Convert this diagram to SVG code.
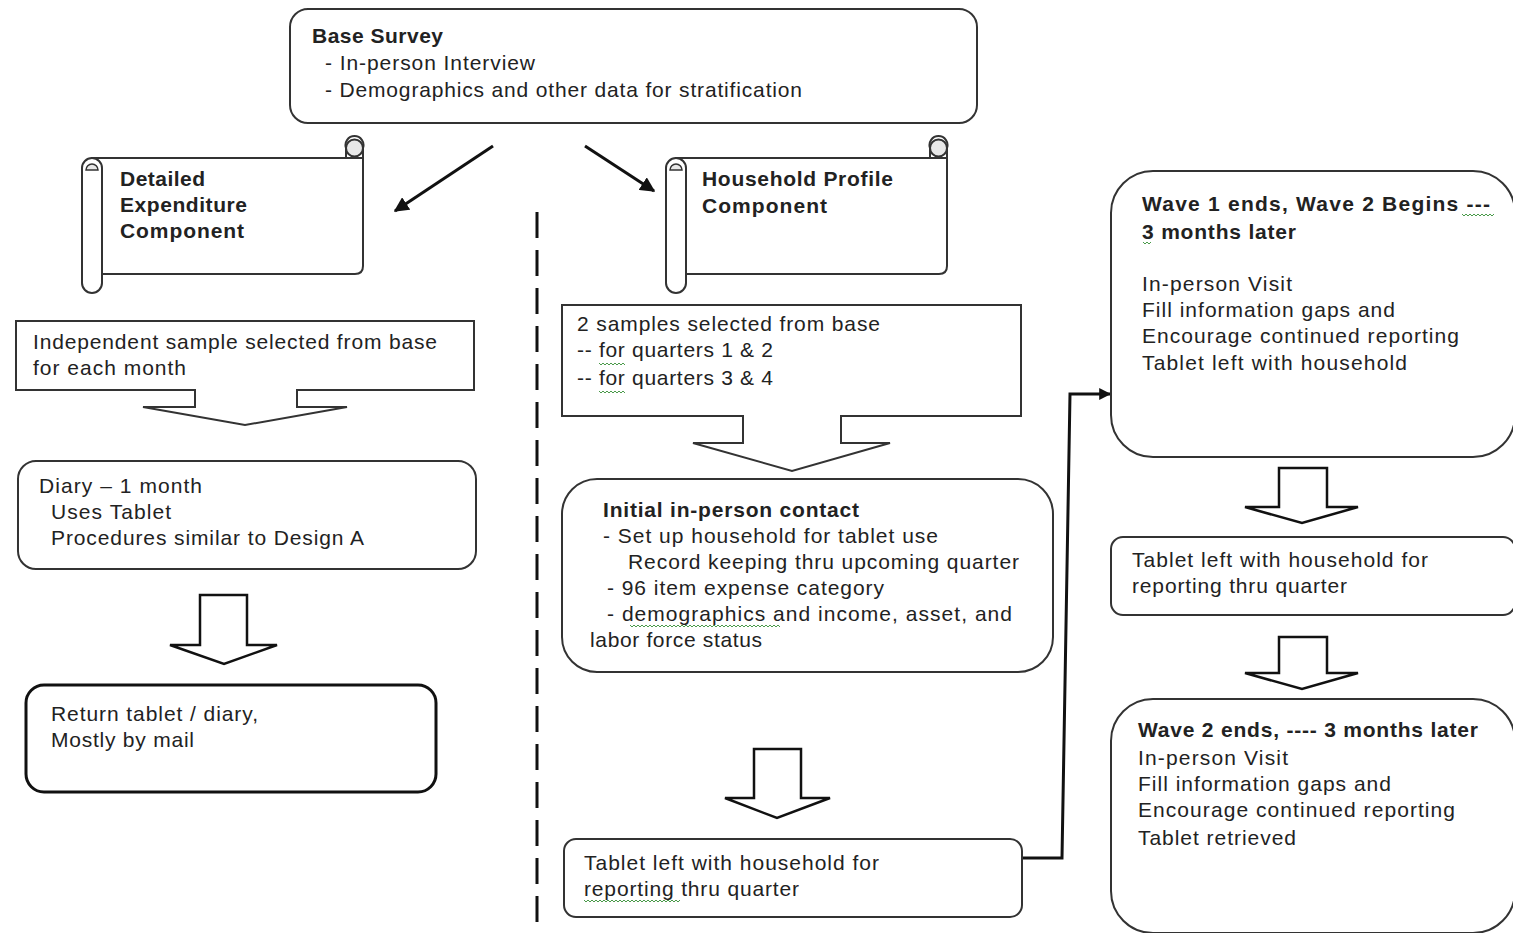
<svg xmlns="http://www.w3.org/2000/svg" width="1513" height="933" viewBox="0 0 1513 933">
<style>
.box{fill:#fff;stroke:#333;stroke-width:2}
.thick{stroke:#111;stroke-width:3}
.t{font-family:"Liberation Sans",Arial,sans-serif;font-size:21px;fill:#222}
.b{font-weight:bold}
.blk{fill:#fff;stroke:#111;stroke-width:2.5;stroke-linejoin:miter}
.ln{fill:none;stroke:#111;stroke-width:3}
.sq{fill:none;stroke:#4a9a4a;stroke-width:1}
</style>
<defs>
<marker id="ah" viewBox="0 0 10 10" refX="9" refY="5" markerWidth="5" markerHeight="5" orient="auto" markerUnits="strokeWidth">
<path d="M0 0 L10 5 L0 10 Z" fill="#111"/>
</marker>
<marker id="ah2" viewBox="0 0 10 10" refX="9" refY="5" markerWidth="4" markerHeight="4" orient="auto" markerUnits="strokeWidth">
<path d="M0 0 L10 5 L0 10 Z" fill="#111"/>
</marker>
<g id="scroll">
<path class="box" d="M92 158 H346 V148 A9 9 0 1 1 363 148 V266 Q363 274 355 274 H102 Z"/>
<circle cx="354.5" cy="148" r="8.5" fill="#e8e8e8" stroke="#333" stroke-width="2"/>
<path fill="none" stroke="#333" stroke-width="2" d="M346 148 V158 H363"/>
<rect class="box" x="82" y="158" width="20" height="135" rx="10"/>
<path fill="#e8e8e8" stroke="#333" stroke-width="1.5" d="M86 170 A6 6 0 1 1 98 170 Z"/>
</g>
</defs>
<rect width="1513" height="933" fill="#fff"/>

<g id="connectors">
<line class="ln" x1="493" y1="146" x2="395" y2="211" marker-end="url(#ah)"/>
<line class="ln" x1="585" y1="146" x2="654" y2="191" marker-end="url(#ah)"/>
<line x1="537" y1="212" x2="537" y2="925" stroke="#111" stroke-width="3" stroke-dasharray="26 12"/>
<path class="ln" d="M1021 858 H1062 L1070 394 H1110" stroke-width="2.5" marker-end="url(#ah2)"/>
<path class="blk" d="M200 595 H247 V645 H277 L224 664 L170 645 H200 Z"/>
<path class="blk" d="M754 749 H801 V798 H830 L777 818 L725 798 H754 Z"/>
<path class="blk" d="M1279 468 H1327 V507 H1358 L1302 523 L1245 507 H1279 Z"/>
<path class="blk" d="M1279 637 H1327 V673 H1358 L1302 689 L1245 673 H1279 Z"/>
</g>

<g id="base-survey">
<rect class="box" x="290" y="9" width="687" height="114" rx="18"/>
<text class="t b" x="312" y="43" textLength="131">Base Survey</text>
<text class="t" x="325" y="70" textLength="210">- In-person Interview</text>
<text class="t" x="325" y="97" textLength="477">- Demographics and other data for stratification</text>
</g>

<g id="detailed-expenditure">
<use href="#scroll"/>
<text class="t b" x="120" y="186" textLength="85">Detailed</text>
<text class="t b" x="120" y="212" textLength="127">Expenditure</text>
<text class="t b" x="120" y="238" textLength="124">Component</text>
</g>

<g id="household-profile">
<use href="#scroll" transform="translate(584,0)"/>
<text class="t b" x="702" y="186" textLength="191">Household Profile</text>
<text class="t b" x="702" y="213" textLength="125">Component</text>
</g>

<g id="independent-sample">
<path class="box" d="M16 321 H474 V390 H297 V407 H347 L245 425 L143 407 H195 V390 H16 Z"/>
<text class="t" x="33" y="349" textLength="404">Independent sample selected from base</text>
<text class="t" x="33" y="375" textLength="153">for each month</text>
</g>

<g id="two-samples">
<path class="box" d="M562 305 H1021 V416 H841 V443 H890 L792 471 L693 443 H743 V416 H562 Z"/>
<text class="t" x="577" y="331" textLength="303">2 samples selected from base</text>
<text class="t" x="577" y="357" textLength="196">-- for quarters 1 &amp; 2</text>
<text class="t" x="577" y="385" textLength="196">-- for quarters 3 &amp; 4</text>
</g>

<g id="diary">
<rect class="box" x="18" y="461" width="458" height="108" rx="18"/>
<text class="t" x="39" y="493" textLength="163">Diary – 1 month</text>
<text class="t" x="51" y="519" textLength="120">Uses Tablet</text>
<text class="t" x="51" y="545" textLength="313">Procedures similar to Design A</text>
</g>

<g id="return-tablet">
<rect class="box thick" x="26" y="685" width="410" height="107" rx="18"/>
<text class="t" x="51" y="721" textLength="207">Return tablet / diary,</text>
<text class="t" x="51" y="747" textLength="143">Mostly by mail</text>
</g>

<g id="initial-contact">
<rect class="box" x="562" y="479" width="491" height="193" rx="35"/>
<text class="t b" x="603" y="517" textLength="256">Initial in-person contact</text>
<text class="t" x="603" y="543" textLength="335">-  Set up household for tablet use</text>
<text class="t" x="628" y="569" textLength="391">Record keeping thru upcoming quarter</text>
<text class="t" x="607" y="595" textLength="277">- 96 item expense category</text>
<text class="t" x="607" y="621" textLength="405">-  demographics and income, asset, and</text>
<text class="t" x="590" y="647" textLength="172">labor force status</text>
</g>

<g id="tablet-left-mid">
<rect class="box" x="564" y="839" width="458" height="78" rx="12"/>
<text class="t" x="584" y="870" textLength="295">Tablet left with household for</text>
<text class="t" x="584" y="896" textLength="215">reporting thru quarter</text>
</g>

<g id="wave1">
<rect class="box" x="1111" y="171" width="404" height="286" rx="42"/>
<text class="t b" x="1142" y="211" textLength="348">Wave 1 ends, Wave 2 Begins ---</text>
<text class="t b" x="1142" y="239" textLength="154">3 months later</text>
<text class="t" x="1142" y="291" textLength="150">In-person Visit</text>
<text class="t" x="1142" y="317" textLength="253">Fill information gaps and</text>
<text class="t" x="1142" y="343" textLength="317">Encourage continued reporting</text>
<text class="t" x="1142" y="370" textLength="265">Tablet left with household</text>
</g>

<g id="tablet-left-right">
<rect class="box" x="1111" y="537" width="404" height="78" rx="12"/>
<text class="t" x="1132" y="567" textLength="296">Tablet left with household for</text>
<text class="t" x="1132" y="593" textLength="215">reporting thru quarter</text>
</g>

<g id="wave2">
<rect class="box" x="1111" y="699" width="404" height="234" rx="42"/>
<text class="t b" x="1138" y="737" textLength="340">Wave  2 ends, ---- 3 months later</text>
<text class="t" x="1138" y="765" textLength="150">In-person Visit</text>
<text class="t" x="1138" y="791" textLength="253">Fill information gaps and</text>
<text class="t" x="1138" y="817" textLength="317">Encourage continued reporting</text>
<text class="t" x="1138" y="845" textLength="158">Tablet retrieved</text>
</g>

<g id="spellcheck-marks">
<path class="sq" d="M1462 214 l2 2 l2 -2 l2 2 l2 -2 l2 2 l2 -2 l2 2 l2 -2 l2 2 l2 -2 l2 2 l2 -2 l2 2 l2 -2 l2 2 l2 -2"/>
<path class="sq" d="M1143 242 l2 2 l2 -2 l2 2 l2 -2"/>
<path class="sq" d="M599 363 l2 2 l2 -2 l2 2 l2 -2 l2 2 l2 -2 l2 2 l2 -2 l2 2 l2 -2 l2 2 l2 -2 l2 2"/>
<path class="sq" d="M599 391 l2 2 l2 -2 l2 2 l2 -2 l2 2 l2 -2 l2 2 l2 -2 l2 2 l2 -2 l2 2 l2 -2 l2 2"/>
<path class="sq" d="M630 625 l2 2 l2 -2 l2 2 l2 -2 l2 2 l2 -2 l2 2 l2 -2 l2 2 l2 -2 l2 2 l2 -2 l2 2 l2 -2 l2 2 l2 -2 l2 2 l2 -2 l2 2 l2 -2 l2 2 l2 -2 l2 2 l2 -2 l2 2 l2 -2 l2 2 l2 -2 l2 2 l2 -2 l2 2 l2 -2 l2 2 l2 -2 l2 2 l2 -2 l2 2 l2 -2 l2 2 l2 -2 l2 2 l2 -2 l2 2 l2 -2 l2 2 l2 -2 l2 2 l2 -2 l2 2 l2 -2 l2 2 l2 -2 l2 2 l2 -2 l2 2 l2 -2 l2 2 l2 -2 l2 2 l2 -2 l2 2 l2 -2 l2 2 l2 -2 l2 2 l2 -2 l2 2 l2 -2 l2 2 l2 -2 l2 2 l2 -2 l2 2 l2 -2 l2 2"/>
<path class="sq" d="M584 900 l2 2 l2 -2 l2 2 l2 -2 l2 2 l2 -2 l2 2 l2 -2 l2 2 l2 -2 l2 2 l2 -2 l2 2 l2 -2 l2 2 l2 -2 l2 2 l2 -2 l2 2 l2 -2 l2 2 l2 -2 l2 2 l2 -2 l2 2 l2 -2 l2 2 l2 -2 l2 2 l2 -2 l2 2 l2 -2 l2 2 l2 -2 l2 2 l2 -2 l2 2 l2 -2 l2 2 l2 -2 l2 2 l2 -2 l2 2 l2 -2 l2 2 l2 -2 l2 2 l2 -2"/>
</g>
</svg>
